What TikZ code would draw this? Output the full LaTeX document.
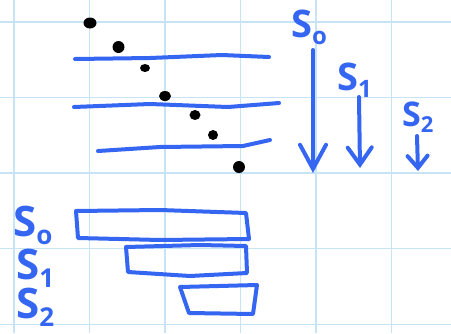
\documentclass[tikz,border=0pt]{standalone}
\usepackage{fontspec}
\setmainfont{Open Sans}
\usetikzlibrary{arrows.meta}
\definecolor{ink}{RGB}{52,102,242}
\definecolor{gridc}{RGB}{198,228,246}
\tikzset{
  stroke/.style={draw=ink, line width=4pt, line cap=round, line join=round},
  lab/.style={text=ink, inner sep=0pt, anchor=base west, text height=0.72em, text depth=0pt, font=\bfseries\fontsize{42}{42}\selectfont},
  slab/.style={text=ink, inner sep=0pt, anchor=base west, text height=0.72em, text depth=0pt, font=\bfseries\fontsize{38}{38}\selectfont},
}
\newcommand{\sub}[2]{\raisebox{-0.2em}[0pt][0pt]{\fontsize{#1}{#1}\selectfont #2}}
\begin{document}
\begin{tikzpicture}[x=1pt,y=-1pt]
\useasboundingbox (0,0) rectangle (451,333);
\fill[white] (0,0) rectangle (451,333);
% grid
\foreach \x in {14,89.5,165,240.5,316,391.5}
  \draw[gridc, line width=1.6pt] (\x,0) -- (\x,333);
\foreach \y in {22,97.5,173,248.5,324.5}
  \draw[gridc, line width=1.6pt] (0,\y) -- (451,\y);
% dots
\fill (90,23) ellipse (6.5 and 5.5);
\fill (118.5,47) ellipse (6 and 6);
\fill (145,68) ellipse (5 and 4);
\fill (165,96) ellipse (6 and 5);
\fill (195,115) ellipse (5.5 and 5);
\fill (213,135) ellipse (5 and 5);
\fill (239,167) ellipse (6 and 6);
% horizontal lines
\coordinate (l1a) at (75,59); \coordinate (l1b) at (269,57);
\coordinate (l2a) at (74,107); \coordinate (l2b) at (279,103);
\coordinate (l3a) at (98,151); \coordinate (l3b) at (270,140);
\draw[stroke] (l1a) -- (150,58) -- (222,55) -- (l1b);
\draw[stroke] (l2a) -- (150,104) -- (228,107) -- (l2b);
\draw[stroke] (l3a) -- (160,147) -- (243,146) -- (l3b);
% right labels and arrows
\node[slab] (t0) at (291,37) {S\sub{24}{o}};
\node[slab] (t1) at (337,90) {S\sub{24}{1}};
\node[slab, font=\bfseries\fontsize{34}{34}\selectfont] (t2) at (402,126) {S\sub{22}{2}};
\coordinate (a0s) at (313,50); \coordinate (a0e) at (313,173);
\coordinate (a1s) at (359,97); \coordinate (a1e) at (360,168);
\coordinate (a2s) at (417,136); \coordinate (a2e) at (418,171);
\draw[stroke, -{Straight Barb[length=24pt,width=26pt,line cap=round]}] (a0s) -- (a0e);
\draw[stroke, -{Straight Barb[length=17pt,width=24pt,line cap=round]}] (a1s) -- (a1e);
\draw[stroke, -{Straight Barb[length=12pt,width=20pt,line cap=round]}] (a2s) -- (a2e);
% bottom labels
\node[lab] (b0) at (13,236) {S\sub{26}{o}};
\node[lab] (b1) at (16,279) {S\sub{26}{1}};
\node[lab] (b2) at (16,318) {S\sub{26}{2}};
% boxes
\draw[stroke] (76,211) -- (160,210) -- (246,213) -- (249,239) -- (160,240) -- (78,238) -- cycle;
\draw[stroke] (126,247) -- (200,245) -- (246,246) -- (247,273) -- (190,276) -- (128,272) -- cycle;
\draw[stroke] (180,287) -- (257,285) -- (253,314) -- (189,313) -- cycle;
\end{tikzpicture}
\end{document}
